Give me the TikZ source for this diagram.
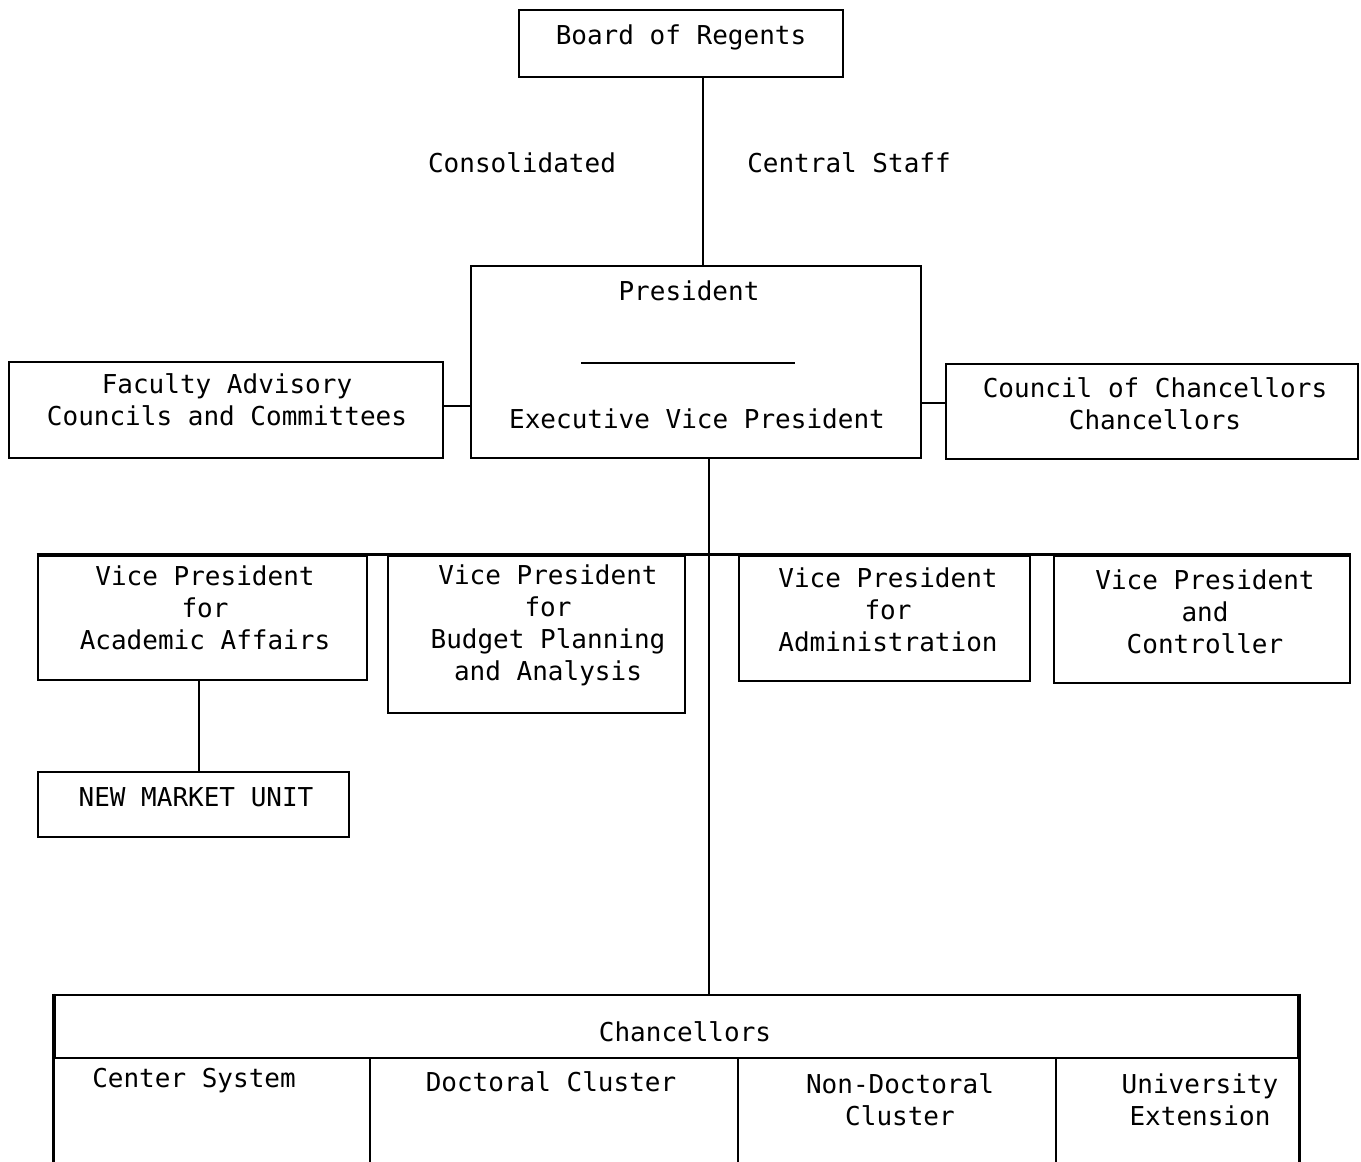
\documentclass[tikz,border=0pt]{standalone}
\usepackage{fontspec}
\newfontfamily\tw{DejaVu Sans Mono}
\begin{document}
\begin{tikzpicture}[x=1pt,y=-1pt, line width=2.8pt,
  box/.style={draw, rectangle, inner sep=0pt},
  txt/.style={font=\tw\fontsize{26}{32}\selectfont, align=center, inner sep=0pt}]
\useasboundingbox[fill=white] (0,0) rectangle (1361,1162);
% boxes
\node[box, minimum width=324pt, minimum height=67pt] (board) at (681,43.5) {};
\node[box, minimum width=450pt, minimum height=192pt] (pres) at (696,362) {};
\node[box, minimum width=434pt, minimum height=96pt] (fac) at (226,410) {};
\node[box, minimum width=412pt, minimum height=95pt] (coc) at (1152,411.5) {};
\node[box, minimum width=329pt, minimum height=124pt] (vp1) at (202.5,618) {};
\node[box, minimum width=297pt, minimum height=157pt] (vp2) at (536.5,634.5) {};
\node[box, minimum width=291pt, minimum height=125pt] (vp3) at (884.5,618.5) {};
\node[box, minimum width=296pt, minimum height=127pt] (vp4) at (1202,619.5) {};
\node[box, minimum width=311pt, minimum height=65pt] (nmu) at (193.5,804.5) {};
\node[box, minimum width=1243pt, minimum height=63pt] (chan) at (676.5,1026.5) {};
% texts
\node[txt] (boardT) at (681,37) {Board of Regents};
\node[txt] (cons) at (522,163) {Consolidated};
\node[txt] (cstaff) at (849,163) {Central Staff};
\node[txt] (presT) at (689,291) {President};
\coordinate (ruleL) at (581,363);
\coordinate (ruleR) at (795,363);
\draw[line width=2pt] (ruleL) -- (ruleR);
\node[txt] (evp) at (697,419) {Executive Vice President};
\node[txt] (facT) at (227,400) {Faculty Advisory\\Councils and Committees};
\node[txt] (cocT) at (1155,404) {Council of Chancellors\\Chancellors};
\node[txt] (vp1T) at (205,607.5) {Vice President\\for\\Academic Affairs};
\node[txt] (vp2T) at (548,625) {Vice President\\for\\Budget Planning\\and Analysis};
\node[txt] (vp3T) at (888,610) {Vice President\\for\\Administration};
\node[txt] (vp4T) at (1205,612) {Vice President\\and\\Controller};
\node[txt] (nmuT) at (196,797) {NEW MARKET UNIT};
\node[txt] (chanT) at (685,1032) {Chancellors};
\node[txt] (csT) at (194,1081) {Center System};
\node[txt] (dcT) at (551,1082) {Doctoral Cluster};
\node[txt] (ndT) at (900,1099.5) {Non-Doctoral\\Cluster};
\node[txt] (ueT) at (1200,1100) {University\\Extension};
% connectors
\coordinate (topline) at (703,0);
\coordinate (trunk) at (709,0);
\coordinate (nmline) at (199,0);
\draw (board.south -| topline) -- (pres.north -| topline);
\draw (fac.east |- 0,406) -- (pres.west |- 0,406);
\draw (pres.east |- 0,403) -- (coc.west |- 0,403);
\draw (pres.south -| trunk) -- (chan.north -| trunk);
\draw (vp1.north west) -- (vp4.north east);
\draw (vp1.south -| nmline) -- (nmu.north -| nmline);
% chancellor cells
\coordinate (c1) at (370,0);
\coordinate (c2) at (738,0);
\coordinate (c3) at (1056,0);
\draw (chan.north west) -- (chan.north west |- 0,1162);
\draw (chan.north east) -- (chan.north east |- 0,1162);
\draw (chan.south -| c1) -- (c1 |- 0,1162);
\draw (chan.south -| c2) -- (c2 |- 0,1162);
\draw (chan.south -| c3) -- (c3 |- 0,1162);
\end{tikzpicture}
\end{document}
